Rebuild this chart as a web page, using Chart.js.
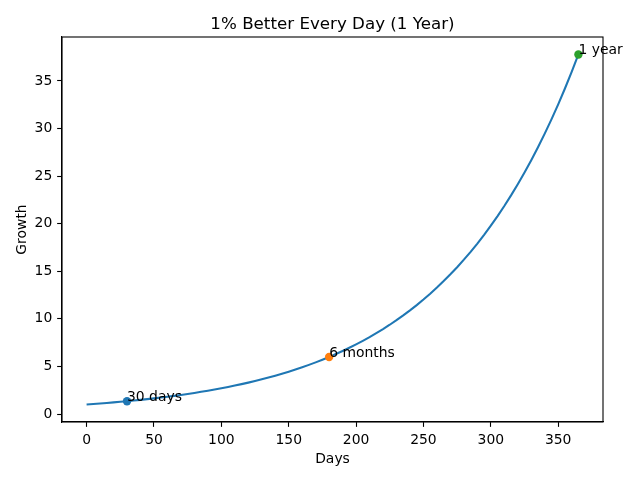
<!DOCTYPE html>
<html>
<head>
<meta charset="utf-8">
<script src="https://cdn.jsdelivr.net/npm/chart.js@4"></script>
<style>html,body{margin:0;padding:0;background:#fff;}canvas{display:block;}</style>
</head>
<body>
<canvas id="c" width="640" height="480"></canvas>
<script>
const days = [0,5,10,15,20,25,30,35,40,45,50,55,60,65,70,75,80,85,90,95,100,105,110,115,120,125,130,135,140,145,150,155,160,165,170,175,180,185,190,195,200,205,210,215,220,225,230,235,240,245,250,255,260,265,270,275,280,285,290,295,300,305,310,315,320,325,330,335,340,345,350,355,360,365];
const growth = [1.000,1.051,1.105,1.161,1.220,1.282,1.348,1.417,1.489,1.565,1.645,1.729,1.817,1.909,2.007,2.109,2.217,2.330,2.449,2.574,2.705,2.843,2.988,3.140,3.300,3.469,3.646,3.832,4.027,4.233,4.448,4.675,4.914,5.164,5.428,5.705,5.996,6.302,6.623,6.961,7.316,7.689,8.081,8.494,8.927,9.382,9.861,10.364,10.893,11.448,12.032,12.646,13.291,13.969,14.682,15.430,16.218,17.045,17.914,18.828,19.788,20.798,21.859,22.974,24.146,25.377,26.672,28.032,29.462,30.965,32.545,34.205,35.950,37.783];
const markDays = [30,180,365];
const markGrowth = [1.348,5.996,37.783];
const markLabels = ['30 days','6 months','1 year'];
const markColors = ['#1f77b4','#ff7f0e','#2ca02c'];
const xTicks = [0,50,100,150,200,250,300,350];
const yTicks = [0,5,10,15,20,25,30,35];
const titleText = '1% Better Every Day (1 Year)';

const FONT = 'DejaVu Sans';
const frame = {
  id:'frame',
  afterDraw(chart){
    const ctx = chart.ctx, a = chart.chartArea;
    ctx.save();
    ctx.strokeStyle = '#000'; ctx.lineWidth = 1.1;
    ctx.strokeRect(a.left, a.top, a.right-a.left, a.bottom-a.top);
    ctx.fillStyle = '#000';
    ctx.font = '16.7px "' + FONT + '"';
    ctx.textAlign = 'center'; ctx.textBaseline = 'alphabetic';
    ctx.fillText(titleText, (a.left+a.right)/2, 29);
    ctx.restore();
  },
  afterDatasetsDraw(chart){
    const ctx = chart.ctx, xs = chart.scales.x, ys = chart.scales.y;
    ctx.save();
    ctx.fillStyle = '#000';
    ctx.font = '13.9px "' + FONT + '"';
    ctx.textAlign = 'left'; ctx.textBaseline = 'alphabetic';
    markLabels.forEach((t,i)=>{
      ctx.fillText(t, xs.getPixelForValue(markDays[i]), ys.getPixelForValue(markGrowth[i]));
    });
    ctx.restore();
  }
};

const axisCommon = (ticks, fitFn, titleTxt, titlePad) => ({
  type:'linear',
  afterBuildTicks: s => { s.ticks = ticks.map(v=>({value:v})); },
  afterFit: fitFn,
  grid:{display:true, drawOnChartArea:false, drawTicks:true, tickLength:4.86, tickWidth:1.1, tickColor:'#000', color:'#000'},
  border:{display:true, color:'#000', width:1.1},
  ticks:{color:'#000', font:{family:FONT, size:13.9}, padding:4.86, maxRotation:0, autoSkip:false},
  title:{display:true, text:titleTxt, color:'#000', font:{family:FONT, size:13.9}, padding:titlePad}
});

const xAxis = axisCommon(xTicks, s=>{ s.height = 58; }, 'Days', {top:0,bottom:12});
xAxis.min = -18.25; xAxis.max = 383.25;
const yAxis = axisCommon(yTicks, s=>{ s.width = 62; }, 'Growth', {top:14,bottom:0});
yAxis.min = -0.839; yAxis.max = 39.62;

new Chart(document.getElementById('c'), {
  type:'scatter',
  data:{
    datasets:[
      {data: days.map((d,i)=>({x:d,y:growth[i]})), showLine:true, borderColor:'#1f77b4', borderWidth:2.08, pointRadius:0, tension:0, order:2},
      {data: markDays.map((d,i)=>({x:d,y:markGrowth[i]})), showLine:false, pointRadius:4.2, pointHoverRadius:4.2, pointBorderWidth:0, pointBackgroundColor:markColors, backgroundColor:markColors, borderColor:markColors, order:1}
    ]
  },
  options:{
    responsive:false, animation:false, devicePixelRatio:1,
    layout:{padding:{top:37, right:37, left:0, bottom:0}},
    plugins:{legend:{display:false}, title:{display:false}, tooltip:{enabled:false}},
    scales:{x:xAxis, y:yAxis}
  },
  plugins:[frame]
});
</script>
</body>
</html>
